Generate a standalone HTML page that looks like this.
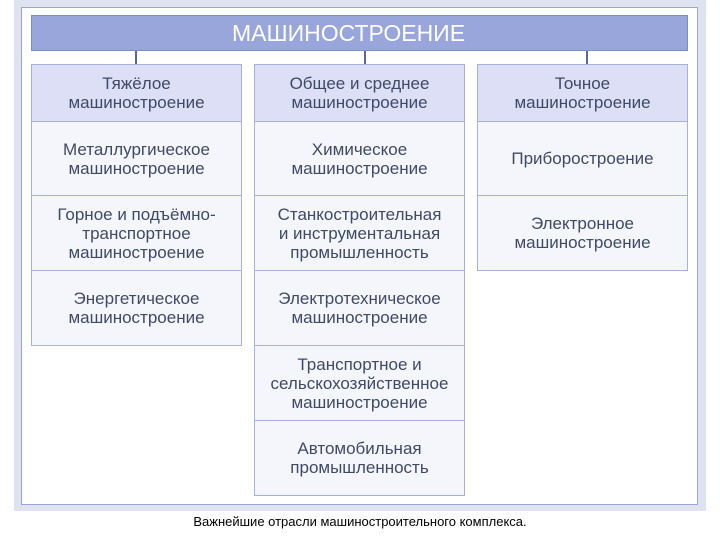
<!DOCTYPE html>
<html><head><meta charset="utf-8"><style>
body{margin:0;width:720px;height:540px;background:#fff;position:relative;overflow:hidden;font-family:"Liberation Sans",sans-serif}
.abs{position:absolute;box-sizing:border-box}
.band{left:14px;top:0;width:692px;height:511px;background:#dfe3f0}
.panel{left:21px;top:7px;width:677px;height:498px;background:#fff;border:1px solid #9aa4d8}
.title{left:31px;top:15px;width:657px;height:36px;background:#98a6dc;border:1px solid #7f8cc4;color:#fff;font-size:23px;line-height:34px;padding-left:200px}
.ln{width:2px;height:13px;top:51px;background:#5a6a96}
.c{display:flex;align-items:center;justify-content:center;text-align:center;color:#3e4a66;font-size:17px;line-height:19px;border:1px solid #a8b1d8;background:#f5f6fb}
.h{background:#dcdff5}
</style></head><body>
<div class="abs band"></div>
<div class="abs panel"></div>
<div class="abs title">МАШИНОСТРОЕНИЕ</div>
<div class="abs ln" style="left:135px"></div>
<div class="abs ln" style="left:364px"></div>
<div class="abs ln" style="left:586px"></div>

<div class="abs c h" style="left:31px;top:64px;width:211px;height:58px">Тяжёлое<br>машиностроение</div>
<div class="abs c" style="left:31px;top:121px;width:211px;height:75px">Металлургическое<br>машиностроение</div>
<div class="abs c" style="left:31px;top:195px;width:211px;height:76px">Горное и подъёмно-<br>транспортное<br>машиностроение</div>
<div class="abs c" style="left:31px;top:270px;width:211px;height:76px">Энергетическое<br>машиностроение</div>

<div class="abs c h" style="left:254px;top:64px;width:211px;height:58px">Общее и среднее<br>машиностроение</div>
<div class="abs c" style="left:254px;top:121px;width:211px;height:75px">Химическое<br>машиностроение</div>
<div class="abs c" style="left:254px;top:195px;width:211px;height:76px">Станкостроительная<br>и инструментальная<br>промышленность</div>
<div class="abs c" style="left:254px;top:270px;width:211px;height:76px">Электротехническое<br>машиностроение</div>
<div class="abs c" style="left:254px;top:345px;width:211px;height:76px">Транспортное и<br>сельскохозяйственное<br>машиностроение</div>
<div class="abs c" style="left:254px;top:420px;width:211px;height:76px">Автомобильная<br>промышленность</div>

<div class="abs c h" style="left:477px;top:64px;width:211px;height:58px">Точное<br>машиностроение</div>
<div class="abs c" style="left:477px;top:121px;width:211px;height:75px">Приборостроение</div>
<div class="abs c" style="left:477px;top:195px;width:211px;height:76px">Электронное<br>машиностроение</div>

<div class="abs" style="left:0;width:720px;top:514px;text-align:center;font-size:13px;color:#000">Важнейшие отрасли машиностроительного комплекса.</div>
</body></html>
